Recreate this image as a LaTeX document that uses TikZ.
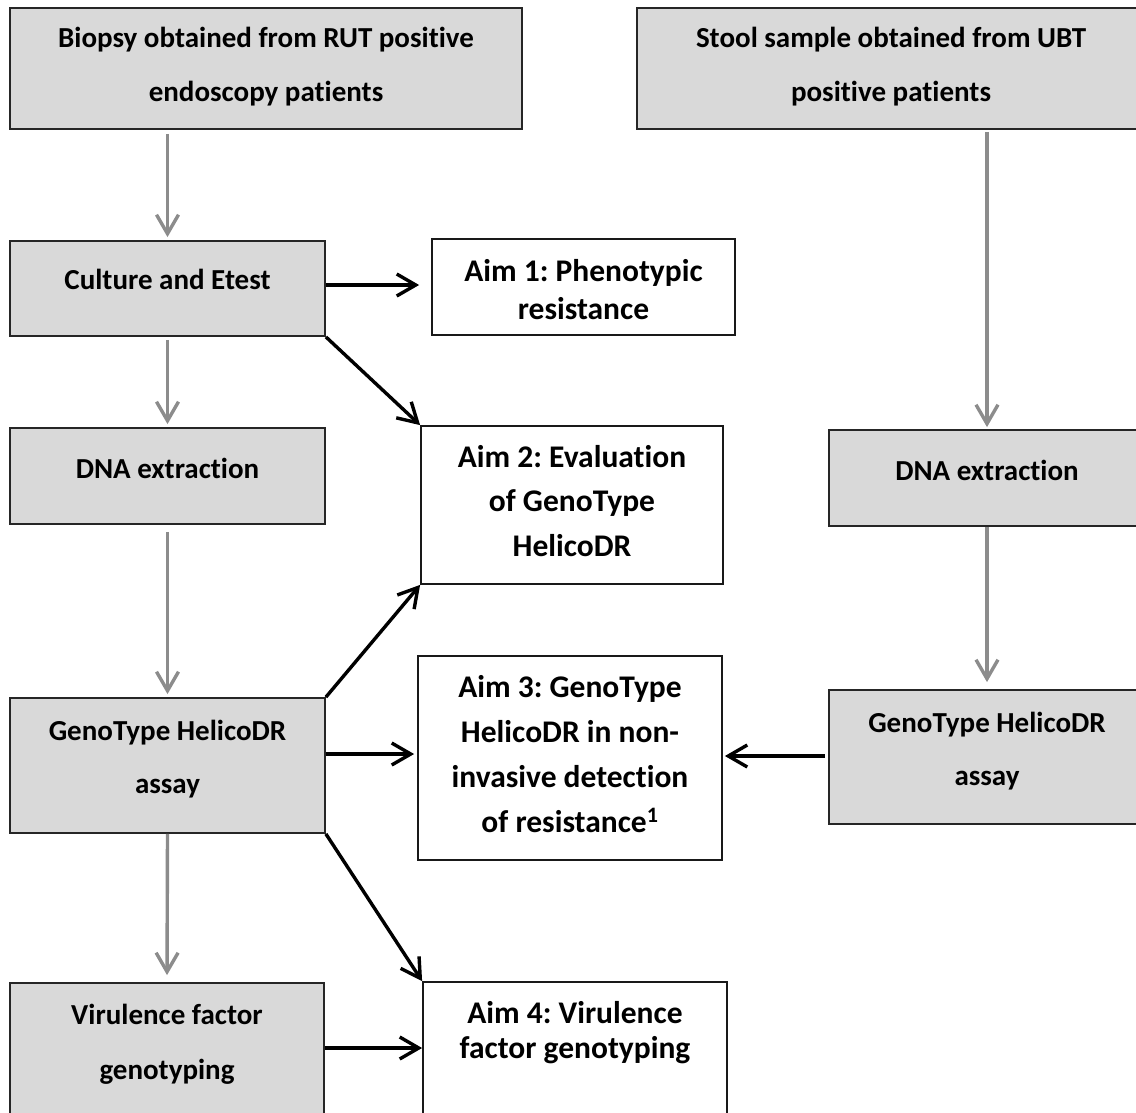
\documentclass[tikz,border=0pt]{standalone}
\usepackage{fontspec}
\setmainfont{Carlito}[Ligatures={NoCommon,NoRare,NoContextual},RawFeature={-liga;-clig;-dlig;-calt}]
\frenchspacing
\usetikzlibrary{arrows.meta}
\definecolor{boxgray}{HTML}{D9D9D9}
\definecolor{arrgray}{HTML}{8C8C8C}
\begin{document}
\begin{tikzpicture}[x=1pt,y=-1pt,
  gbox/.style={draw=black!85, line width=1.8pt, fill=boxgray, inner sep=0pt},
  abox/.style={draw=black!90, line width=1.8pt, fill=white, inner sep=0pt},
  gtxt/.style={font=\fontsize{29}{35}\selectfont\bfseries, anchor=base, inner sep=0pt},
  atxt/.style={font=\fontsize{31.5}{38}\selectfont\bfseries, anchor=base, inner sep=0pt},
  garr/.style={draw=arrgray, line width=3.4pt, -{Straight Barb[length=19pt,width=22pt]}},
  barr/.style={draw=black, line width=3.4pt, -{Straight Barb[length=19pt,width=22pt]}},
]
\useasboundingbox (0,0) rectangle (1136,1112);
\clip (0,0) rectangle (1136,1112);

% boxes
\node[gbox, minimum width=512pt, minimum height=121pt] (A) at (266,68.5) {};
\node[gbox, minimum width=508pt, minimum height=121pt] (B) at (891,68.5) {};
\node[gbox, minimum width=315pt, minimum height=95pt] (C) at (167.5,288.5) {};
\node[abox, minimum width=303pt, minimum height=96pt] (aim1) at (583.5,287) {};
\node[gbox, minimum width=315pt, minimum height=96pt] (dL) at (167.5,476) {};
\node[abox, minimum width=302pt, minimum height=158pt] (aim2) at (572,505) {};
\node[gbox, minimum width=316pt, minimum height=96pt] (dR) at (987,478) {};
\node[gbox, minimum width=315pt, minimum height=135pt] (gL) at (167.5,765.5) {};
\node[abox, minimum width=304pt, minimum height=204pt] (aim3) at (570,758) {};
\node[gbox, minimum width=316pt, minimum height=134pt] (gR) at (987,757) {};
\node[gbox, minimum width=314pt, minimum height=147pt] (vir) at (167,1056.5) {};
\node[abox, minimum width=304pt, minimum height=148pt] (aim4) at (575,1056) {};

% texts
\node[gtxt] (tA1) at (266,47) {Biopsy obtained from RUT positive};
\node[gtxt] (tA2) at (266,101) {endoscopy patients};
\node[gtxt] (tB1) at (891,47) {Stool sample obtained from UBT};
\node[gtxt] (tB2) at (891,101) {positive patients};
\node[gtxt] (tC) at (167.5,289) {Culture and Etest};
\node[atxt] (t11) at (583.5,281) {Aim 1: Phenotypic};
\node[atxt] (t12) at (583.5,319) {resistance};
\node[gtxt] (tdL) at (167.5,478) {DNA extraction};
\node[atxt] (t21) at (572,467) {Aim 2: Evaluation};
\node[atxt] (t22) at (572,511.5) {of GenoType};
\node[atxt] (t23) at (572,556) {HelicoDR};
\node[gtxt] (tdR) at (987,480) {DNA extraction};
\node[gtxt] (tgL1) at (167.5,740) {GenoType HelicoDR};
\node[gtxt] (tgL2) at (167.5,793) {assay};
\node[atxt] (t31) at (570,697) {Aim 3: GenoType};
\node[atxt] (t32) at (570,742) {HelicoDR in non-};
\node[atxt] (t33) at (570,787) {invasive detection};
\node[atxt] (t34) at (570,832) {of resistance\textsuperscript{1}};
\node[gtxt] (tgR1) at (987,732) {GenoType HelicoDR};
\node[gtxt] (tgR2) at (987,785) {assay};
\node[gtxt] (tv1) at (167,1024) {Virulence factor};
\node[gtxt] (tv2) at (167,1079) {genotyping};
\node[atxt] (t41) at (575,1023) {Aim 4: Virulence};
\node[atxt] (t42) at (575,1058) {factor genotyping};

% gray flow arrows
\draw[garr, shorten <=4pt, shorten >=3pt] (A.south -| C.north) -- (C.north);
\draw[garr, shorten <=3pt, shorten >=3pt] (C.south) -- (dL.north);
\draw[garr, shorten <=7pt, shorten >=3pt] (dL.south) -- (gL.north);
\draw[garr, shorten >=7pt] (gL.south) -- (vir.north);
\draw[garr, shorten <=2pt, shorten >=2pt] (B.south -| dR.north) -- (dR.north);
\draw[garr, shorten >=7pt] (dR.south) -- (gR.north);

% black aim arrows
\coordinate (c1) at ([yshift=3.5pt]C.east);
\draw[barr, shorten >=12pt] (c1) -- (c1 -| aim1.west);
\draw[barr] (C.south east) -- (aim2.north west);
\draw[barr] (gL.north east) -- (aim2.south west);
\coordinate (g1) at ([yshift=11.5pt]gL.east);
\draw[barr, shorten >=3pt] (g1) -- (g1 -| aim3.west);
\coordinate (g2) at ([yshift=1pt]gR.west);
\draw[barr, shorten <=3pt, shorten >=2pt] (g2) -- (g2 -| aim3.east);
\draw[barr] (gL.south east) -- (aim4.north west);
\coordinate (v1) at ([yshift=8.5pt]vir.east);
\draw[barr] (v1) -- (v1 -| aim4.west);
\end{tikzpicture}
\end{document}
